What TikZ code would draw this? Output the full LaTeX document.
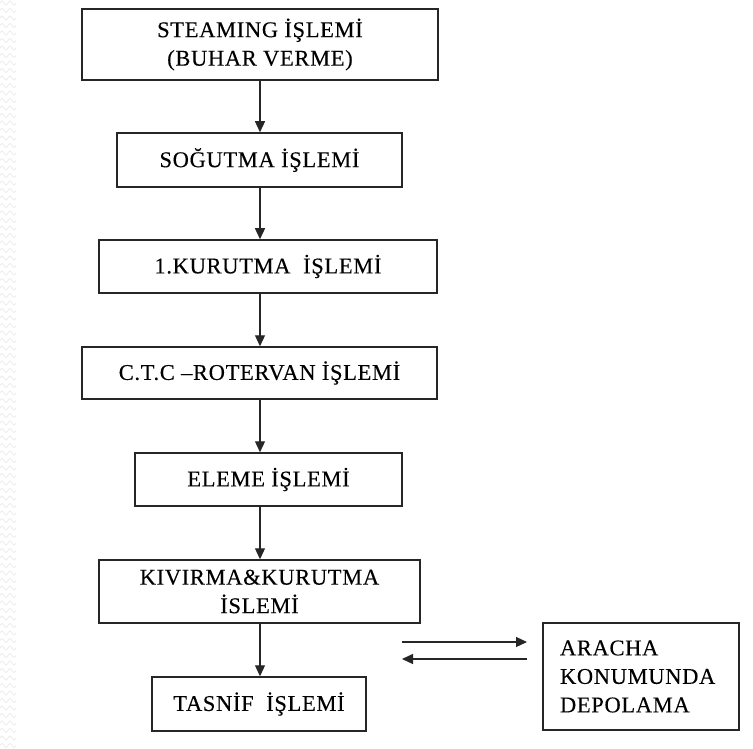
\documentclass[tikz,border=0pt]{standalone}
\usepackage{fontspec}
\setmainfont{Liberation Serif}[LetterSpace=3,FakeBold=0.2]
\usetikzlibrary{arrows.meta}
\begin{document}
\begin{tikzpicture}[x=1pt,y=-1pt,
  stage/.style={draw=black!85, line width=1.5pt, inner sep=0pt, align=center,
    font=\fontsize{22.5}{28.5}\selectfont},
  flow/.style={-{Triangle[length=11pt,width=10pt]}, line width=1.2pt, draw=black!85},
  wave/.style={draw=gray!14, line width=0.8pt}]
\useasboundingbox (0,0) rectangle (753,749);
\fill[white] (0,0) rectangle (753,749);

% faint wavy strip along the left edge
\foreach \r in {0,...,100}{
  \pgfmathsetmacro{\yy}{\r*7.5+3}
  \draw[wave] (0,\yy) sin (2,\yy-2) cos (4,\yy) sin (6,\yy+2) cos (8,\yy)
              sin (10,\yy-2) cos (12,\yy) sin (14,\yy+2) cos (16,\yy);
}

% process stages
\node[stage, minimum width=356pt, minimum height=71pt] (b1) at (260,44.5)
  {STEAMING İŞLEMİ\\(BUHAR VERME)};
\node[stage, minimum width=285pt, minimum height=54pt] (b2) at (259.5,160)
  {SOĞUTMA İŞLEMİ};
\node[stage, minimum width=338pt, minimum height=53pt] (b3) at (268,266.5)
  {1.KURUTMA\ \ İŞLEMİ};
\node[stage, minimum width=355pt, minimum height=52pt] (b4) at (259.5,373)
  {C.T.C –ROTERVAN İŞLEMİ};
\node[stage, minimum width=267pt, minimum height=53pt] (b5) at (268.5,479.5)
  {ELEME İŞLEMİ};
\node[stage, minimum width=321pt, minimum height=63pt] (b6) at (259.5,591.5)
  {KIVIRMA\&KURUTMA\\İSLEMİ};
\node[stage, minimum width=214pt, minimum height=54pt] (b7) at (259,704)
  {TASNİF\ \ İŞLEMİ};
\node[stage, align=left, inner xsep=17pt, text width=162pt, minimum height=107pt] (b8)
  at (641,676.5) {ARACHA\\KONUMUNDA\\DEPOLAMA};

% main flow line
\coordinate (spine) at (260,0);
\foreach \a/\b in {b1/b2,b2/b3,b3/b4,b4/b5,b5/b6,b6/b7}{
  \draw[flow] (\a.south -| spine) -- (\b.north -| spine);
}

% two-way exchange with storage
\coordinate (outA) at (402,642);
\coordinate (outB) at (527,642);
\coordinate (backA) at (527,659);
\coordinate (backB) at (402,659);
\draw[flow] (outA) -- (outB);
\draw[flow] (backA) -- (backB);
\end{tikzpicture}
\end{document}
